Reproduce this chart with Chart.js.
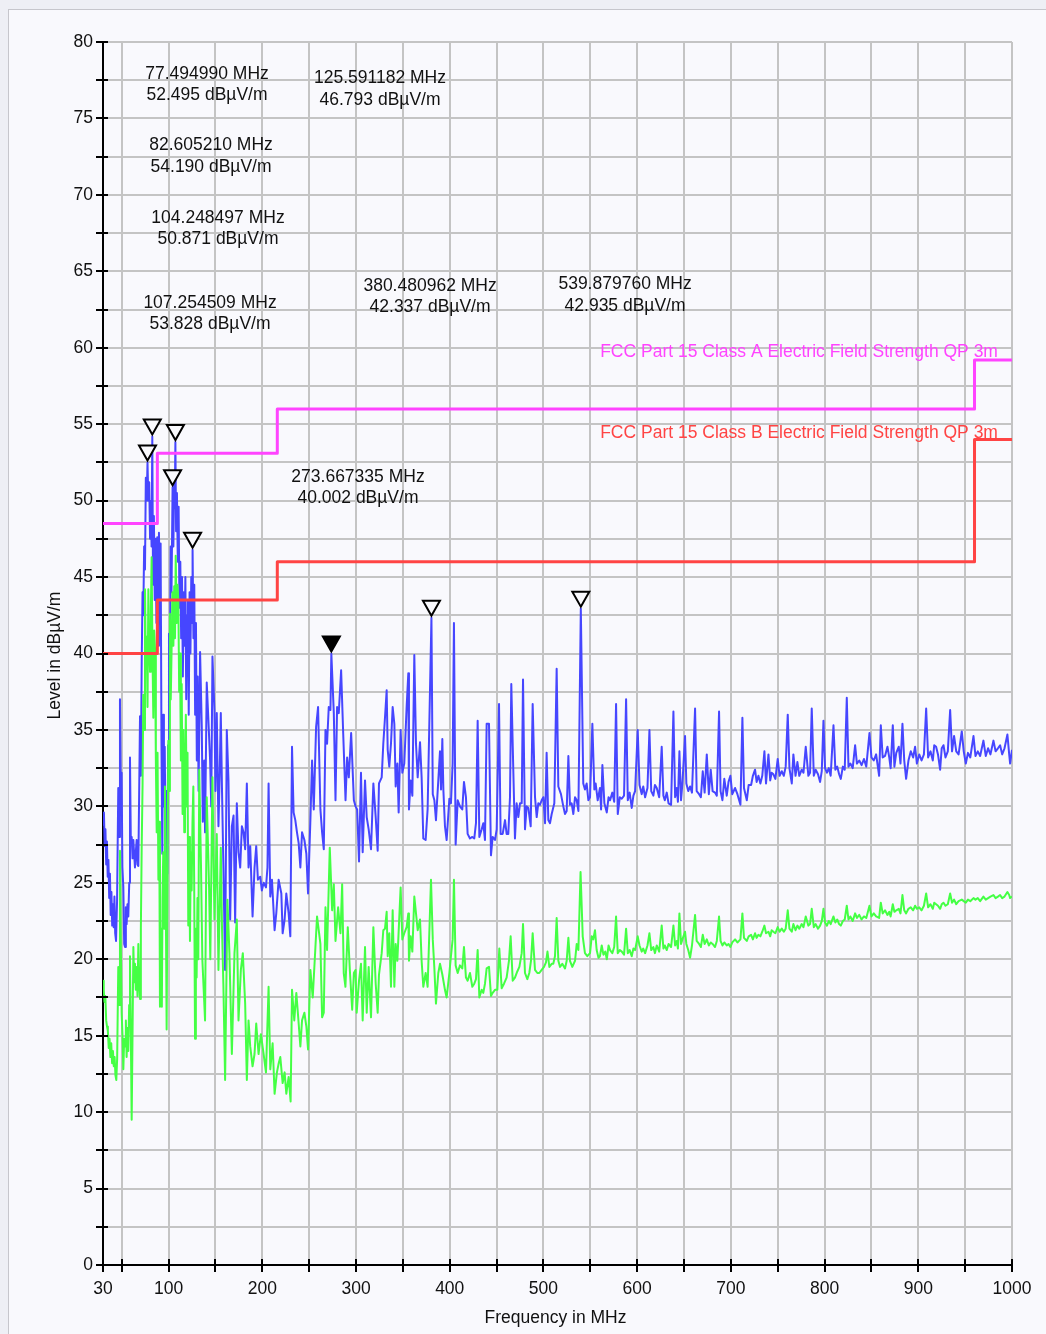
<!DOCTYPE html>
<html>
<head>
<meta charset="utf-8">
<title>Radiated emission scan 30 MHz - 1 GHz</title>
<script src="https://cdn.jsdelivr.net/npm/chart.js@4.4.1/dist/chart.umd.min.js"></script>
<style>
  html, body { margin: 0; padding: 0; background: #eeeff5; }
  #frame { position: absolute; left: 8px; top: 9px; width: 1100px; height: 1400px;
           background: #f9f9fd; border: 1px solid #c6c6cc; }
  #wrap { position: absolute; left: 0; top: 0; width: 1046px; height: 1334px; }
  canvas { display: block; }
</style>
</head>
<body>
<div id="frame"></div>
<div id="wrap"><canvas id="scan" width="1046" height="1334"></canvas></div>
<script>
// ---- axis ticks ----
const xTickValues = [30, 50, 100, 150, 200, 250, 300, 350, 400, 450, 500, 550, 600, 650, 700, 750, 800, 850, 900, 950, 1000];
const xTickLabels = [30, 100, 200, 300, 400, 500, 600, 700, 800, 900, 1000];
const yTickValues = [0, 2.5, 5, 7.5, 10, 12.5, 15, 17.5, 20, 22.5, 25, 27.5, 30, 32.5, 35, 37.5, 40, 42.5, 45, 47.5, 50, 52.5, 55, 57.5, 60, 62.5, 65, 67.5, 70, 72.5, 75, 77.5, 80];
const yTickLabels = [0, 5, 10, 15, 20, 25, 30, 35, 40, 45, 50, 55, 60, 65, 70, 75, 80];

// ---- limit lines (band edges in MHz, level in dBµV/m) ----
const limitEdges = [30, 88, 216, 960, 1000];
const classALimit = [48.5, 53.1, 56.0, 59.2, 59.2];
const classBLimit = [40.0, 43.5, 46.0, 54.0, 54.0];

// ---- peak detector trace [MHz, dBµV/m] ----
const peakTrace = [
  [30.0,28.8],[31.0,29.6],[31.8,27.4],[32.6,28.5],[33.4,26.2],[34.2,27.7],[35.0,25.4],[35.8,26.5],[36.6,24.0],[37.4,25.6],
  [38.2,22.9],[39.0,24.4],[39.8,22.2],[40.6,23.6],[41.4,22.1],[42.2,24.1],[43.0,21.7],[43.9,21.2],[45.0,23.8],[46.3,31.2],
  [47.2,28.0],[48.1,37.0],[48.9,31.8],[49.9,32.2],[50.7,26.0],[51.7,24.7],[52.6,21.0],[53.5,20.8],[54.4,23.4],[55.2,22.3],
  [56.1,23.6],[57.0,22.8],[58.0,25.0],[58.8,33.2],[59.7,27.6],[60.6,28.0],[61.5,26.6],[62.4,27.8],[63.3,26.8],[64.1,26.0],
  [65.0,27.0],[65.9,27.8],[66.8,26.2],[67.7,26.1],[68.6,31.0],[69.5,35.9],[70.4,32.0],[71.3,39.5],[72.2,44.0],[73.0,42.5],
  [73.9,47.0],[74.8,45.5],[75.7,51.5],[76.6,50.0],[77.49499,52.495],[78.4,50.0],[79.3,51.2],[80.2,47.5],[81.1,50.0],[81.8,47.0],
  [82.60521,54.19],[83.4,44.5],[84.3,49.0],[85.2,43.5],[86.1,47.5],[87.0,42.0],[87.9,47.6],[88.8,40.5],[89.7,47.9],[90.6,44.0],
  [91.5,47.2],[92.4,34.0],[93.3,26.9],[94.1,36.0],[95.0,30.0],[95.9,33.9],[96.8,27.0],[97.7,31.0],[98.6,25.6],[99.5,34.0],
  [100.4,41.3],[101.3,38.0],[102.2,47.0],[103.1,44.0],[104.248497,50.871],[105.1,47.0],[106.0,51.5],[106.5,49.5],[107.254509,53.828],[108.0,48.0],
  [108.9,50.5],[109.8,46.0],[110.7,49.6],[111.6,43.0],[112.5,46.0],[113.4,41.0],[114.3,45.0],[115.2,38.5],[116.1,44.0],[117.0,40.5],
  [117.9,45.0],[118.8,37.0],[119.7,42.5],[120.6,43.5],[121.5,36.0],[122.4,44.0],[123.3,40.0],[124.2,45.0],[125.1,42.0],[125.591182,46.793],
  [126.5,41.0],[127.4,44.5],[128.3,36.0],[129.2,42.0],[130.1,33.0],[131.0,38.5],[132.0,31.0],[133.6,40.1],[135.4,35.2],[136.5,29.0],
  [138.0,33.0],[138.9,28.3],[140.7,38.1],[142.5,35.6],[144.3,33.0],[145.5,30.0],[146.8,39.8],[148.9,36.3],[150.0,31.0],[151.4,36.1],
  [153.2,28.7],[154.5,32.0],[155.7,36.1],[157.0,31.0],[158.5,26.0],[160.3,19.3],[162.1,35.0],[163.9,31.7],[165.7,22.6],[167.5,28.7],
  [169.3,29.4],[171.0,22.4],[172.8,30.2],[174.6,27.0],[176.4,26.0],[178.2,28.7],[180.0,28.3],[181.7,27.2],[183.5,31.5],[185.3,26.0],
  [187.1,27.4],[189.6,22.8],[191.7,26.0],[193.5,27.4],[195.3,25.2],[197.8,25.4],[199.5,24.5],[201.4,25.0],[203.9,24.7],[205.5,26.0],
  [206.7,31.5],[208.5,24.1],[210.3,25.2],[213.1,21.9],[214.9,23.0],[217.4,25.2],[220.3,24.3],[221.7,21.7],[223.8,22.6],[225.6,24.3],
  [228.1,23.0],[229.9,21.5],[231.7,33.9],[233.4,29.6],[235.2,29.1],[237.0,28.3],[238.8,27.6],[240.6,26.0],[242.4,28.3],[244.9,27.8],
  [247.0,26.9],[248.8,24.3],[251.3,29.1],[253.1,33.0],[254.9,29.8],[257.4,35.2],[259.5,36.5],[262.0,29.8],[263.8,28.3],[265.6,27.2],
  [267.4,35.0],[269.1,34.1],[270.9,36.5],[272.7,36.3],[273.667335,40.002],[276.3,36.1],[278.1,30.4],[279.8,36.5],[281.6,36.1],[284.1,38.9],
  [286.3,34.8],[288.8,30.4],[290.5,33.2],[292.3,31.9],[294.8,34.8],[297.7,30.4],[299.5,30.0],[301.2,29.8],[303.2,26.4],[305.3,32.2],
  [307.1,27.0],[309.6,31.7],[311.4,29.3],[313.5,28.5],[316.0,27.2],[318.5,31.5],[321.0,29.3],[323.1,27.1],[324.5,31.5],[327.4,31.9],
  [329.1,34.1],[330.9,35.8],[332.7,37.6],[333.8,33.7],[335.5,32.6],[337.3,34.1],[339.1,36.5],[340.9,35.4],[342.3,31.3],[344.1,32.8],
  [345.5,29.6],[347.6,35.0],[349.4,32.2],[351.5,32.8],[354.0,36.5],[355.8,38.7],[356.5,29.8],[358.3,31.7],[360.1,30.7],[362.2,39.9],
  [364.0,34.1],[365.8,31.9],[368.3,34.2],[370.0,31.9],[371.8,27.9],[374.3,27.8],[376.4,29.8],[380.480962,42.337],[381.9,30.8],[383.6,30.4],
  [385.3,29.1],[387.8,31.7],[389.6,33.6],[390.7,31.1],[392.1,34.4],[393.2,31.1],[394.9,28.7],[396.7,27.8],[399.6,30.5],[401.3,30.2],
  [403.1,32.8],[404.5,42.0],[406.3,27.5],[408.5,30.4],[410.9,30.0],[413.4,29.8],[415.2,31.6],[417.3,30.6],[419.1,28.2],[421.6,27.9],
  [424.1,28.0],[426.2,27.9],[428.0,28.9],[429.8,35.6],[431.6,28.0],[434.1,28.5],[435.8,28.9],[437.6,27.8],[439.4,35.4],[441.9,35.4],
  [444.0,26.8],[445.8,28.0],[448.3,27.8],[450.1,28.5],[452.6,36.7],[454.3,28.2],[456.5,28.2],[459.0,29.1],[460.7,28.2],[462.5,28.2],
  [464.3,30.6],[465.7,38.0],[467.9,32.2],[469.6,27.9],[471.4,30.2],[473.2,29.3],[475.0,30.2],[476.8,30.2],[478.2,38.3],[480.3,28.5],
  [482.1,30.0],[483.9,29.9],[486.4,28.7],[488.5,36.7],[491.0,30.6],[492.8,29.3],[494.5,30.2],[496.3,30.1],[498.1,30.4],[499.9,30.6],
  [501.7,28.9],[503.4,33.5],[505.2,29.1],[507.0,28.9],[508.8,29.5],[511.6,30.2],[514.1,39.0],[515.9,31.3],[518.7,30.8],[521.2,30.0],
  [523.0,29.5],[524.8,29.7],[526.6,33.3],[528.3,30.1],[530.1,30.2],[531.9,29.5],[533.7,30.6],[535.5,30.4],[537.3,29.7],[539.87976,42.935],
  [542.5,31.5],[544.3,31.1],[546.1,31.5],[547.9,30.4],[549.7,30.6],[552.2,35.4],[554.3,31.1],[555.7,31.5],[557.9,30.4],[560.3,31.2],
  [561.5,29.8],[562.9,32.7],[565.0,30.2],[567.6,29.6],[569.5,30.6],[571.1,30.4],[573.5,30.9],[575.5,30.3],[577.5,36.7],[579.3,29.5],
  [581.5,30.6],[583.6,30.5],[586.0,30.7],[588.2,37.0],[590.0,30.4],[592.0,30.9],[594.2,29.9],[596.0,30.7],[597.8,31.0],[600.6,35.0],
  [602.5,31.4],[604.9,30.8],[606.5,31.3],[608.5,30.6],[611.0,31.2],[613.1,35.0],[615.0,31.0],[617.3,30.7],[619.0,31.4],[620.9,31.2],
  [623.5,30.6],[626.2,33.9],[628.0,30.7],[629.5,30.4],[631.6,30.9],[633.5,30.2],[636.2,30.1],[638.7,36.2],[640.5,30.6],[642.2,31.2],
  [643.5,30.3],[645.1,33.6],[646.8,30.4],[648.3,31.5],[651.1,34.6],[652.5,31.5],[654.5,31.0],[656.5,31.3],[658.5,30.9],[661.8,36.4],
  [663.5,31.0],[666.1,30.8],[668.0,30.6],[670.0,32.3],[672.0,30.9],[674.3,33.4],[676.5,30.8],[678.5,32.4],[680.5,31.0],[683.1,30.9],
  [685.0,30.7],[687.4,36.2],[689.0,31.0],[691.0,30.4],[693.0,31.8],[695.6,30.7],[697.5,31.6],[699.5,32.0],[701.5,30.8],[704.5,31.2],
  [707.0,30.8],[710.2,30.1],[712.3,35.8],[714.0,31.2],[717.0,30.4],[719.0,31.4],[721.6,31.4],[723.5,32.0],[725.8,32.4],[727.5,31.6],
  [729.4,32.0],[731.5,31.5],[733.5,32.0],[735.8,33.6],[737.5,31.5],[740.1,33.4],[742.0,31.7],[743.5,32.2],[745.4,32.1],[747.5,31.8],
  [750.0,33.1],[752.0,32.0],[754.3,32.3],[756.5,32.0],[758.5,32.6],[760.7,36.0],[762.5,32.5],[765.0,31.5],[766.7,33.4],[769.0,32.0],
  [771.0,32.9],[773.0,32.0],[775.6,32.4],[777.5,32.2],[779.9,33.9],[782.7,32.0],[784.5,32.2],[786.3,36.4],[788.5,32.0],[790.5,32.4],
  [793.0,32.1],[795.2,31.6],[797.0,32.3],[798.8,35.6],[800.5,32.5],[802.5,32.2],[804.5,32.5],[806.5,32.0],[809.5,35.3],[811.5,32.4],
  [813.5,32.6],[815.5,32.1],[817.3,31.8],[819.5,32.6],[821.5,32.4],[823.7,37.1],[825.5,32.6],[827.5,32.8],[830.0,32.5],[832.6,34.0],
  [834.5,32.8],[837.0,33.0],[839.5,32.7],[842.0,33.1],[844.5,32.6],[847.9,34.8],[850.0,33.2],[852.5,33.0],[855.0,33.4],[858.2,32.0],
  [860.0,35.3],[862.0,33.2],[864.5,33.3],[867.1,33.9],[869.0,33.2],[870.5,32.5],[872.8,35.3],[874.5,32.6],[876.5,33.5],[879.2,33.9],
  [881.0,32.8],[883.1,35.4],[885.0,33.0],[887.0,31.8],[889.5,33.0],[892.0,33.6],[894.5,33.2],[896.6,33.9],[898.5,32.8],[901.0,33.4],
  [903.5,33.0],[906.0,33.4],[908.4,36.4],[910.5,33.2],[913.0,33.6],[915.5,33.0],[917.0,34.0],[919.0,33.9],[921.0,33.4],[923.3,32.4],
  [925.0,33.8],[926.9,34.0],[929.0,33.2],[931.5,33.6],[934.0,36.3],[936.0,33.6],[938.2,34.6],[940.5,33.6],[943.0,33.4],[946.4,34.9],
  [948.5,33.6],[950.7,32.8],[953.0,33.5],[955.5,33.2],[958.9,34.6],[961.0,33.3],[963.5,33.6],[966.0,33.3],[969.5,34.3],[972.0,33.3],
  [974.5,33.8],[977.0,33.4],[980.2,34.3],[982.5,33.6],[985.0,33.8],[987.3,34.0],[989.5,33.4],[992.0,33.8],[995.1,34.7],[997.0,33.4],
  [998.0,32.8],[1000.0,33.7]
];

// ---- average detector trace [MHz, dBµV/m] ----
const averageTrace = [
  [30.0,18.6],[30.8,18.0],[31.6,17.2],[32.5,17.6],[33.4,16.0],[34.3,15.6],[35.2,15.3],[36.1,14.2],[37.0,14.8],[37.9,13.6],
  [38.8,14.5],[39.7,13.2],[40.6,14.0],[41.5,13.0],[42.4,13.6],[43.3,12.4],[44.2,12.1],[45.1,13.5],[46.3,19.5],[47.2,17.0],
  [48.1,27.1],[49.0,21.0],[49.9,16.5],[50.8,15.0],[51.7,12.8],[52.6,14.8],[53.5,14.3],[54.4,16.0],[55.2,13.6],[56.1,15.5],
  [57.0,14.0],[57.9,17.0],[58.8,20.2],[59.7,15.0],[60.6,9.5],[61.5,15.0],[62.4,20.8],[63.3,18.5],[64.1,19.7],[65.0,18.0],
  [65.9,19.5],[66.8,17.6],[67.7,21.0],[68.6,18.5],[69.5,17.4],[70.4,22.0],[71.3,27.4],[72.2,31.3],[73.0,37.3],[73.9,35.0],
  [74.8,44.2],[75.7,39.0],[76.6,41.1],[77.5,36.5],[78.4,44.2],[79.3,40.5],[80.2,38.8],[81.1,43.0],[81.9,46.3],[82.8,40.0],
  [83.7,35.8],[84.6,41.5],[85.5,40.3],[86.4,33.0],[87.3,28.3],[88.2,33.5],[89.1,25.2],[90.0,29.0],[90.8,16.9],[91.9,22.0],
  [92.8,16.9],[93.5,24.0],[94.3,27.0],[95.2,22.0],[96.1,31.3],[97.0,24.0],[97.9,15.4],[98.8,25.0],[99.7,34.3],[100.6,31.0],
  [101.4,42.6],[102.3,37.0],[103.2,40.3],[104.1,44.0],[105.1,40.5],[106.0,44.4],[106.8,41.0],[107.6,46.4],[108.6,42.0],[109.5,44.5],
  [110.4,43.5],[111.3,37.5],[112.2,40.0],[113.1,33.0],[114.0,38.0],[114.9,29.5],[115.8,35.0],[116.7,28.3],[117.5,31.0],[118.4,36.0],
  [119.3,30.0],[120.2,33.5],[121.0,22.2],[121.9,28.0],[122.8,21.2],[123.7,27.0],[124.6,24.5],[125.5,29.0],[126.4,31.3],[127.3,25.0],
  [128.2,14.8],[129.1,22.0],[129.9,18.8],[130.8,24.0],[131.7,20.0],[132.7,32.4],[134.6,26.0],[136.0,20.0],[138.9,16.0],[140.7,30.6],
  [143.2,24.7],[144.5,20.0],[146.8,31.9],[148.9,22.6],[151.4,28.2],[153.2,19.3],[155.7,27.3],[157.0,22.0],[158.5,18.2],[160.3,12.1],
  [162.8,23.9],[164.9,20.4],[167.5,13.8],[170.3,20.4],[172.8,22.6],[174.6,16.0],[177.1,19.3],[179.2,20.4],[181.7,17.1],[183.5,12.1],
  [185.3,16.0],[187.1,14.3],[189.6,13.0],[191.7,13.8],[193.5,15.8],[196.0,13.8],[198.5,15.1],[201.4,13.8],[203.9,12.6],[206.7,18.2],
  [208.5,12.8],[211.0,14.5],[213.1,11.2],[215.6,12.6],[217.5,13.2],[219.2,13.6],[221.7,11.9],[223.8,12.6],[225.6,11.2],[228.1,12.3],
  [230.2,10.7],[231.7,18.0],[234.1,16.0],[236.3,17.8],[238.8,15.8],[240.6,14.3],[242.4,16.0],[244.9,16.5],[247.0,15.6],[248.8,14.1],
  [251.3,19.3],[253.8,17.5],[255.9,19.9],[258.4,22.8],[260.2,21.9],[262.0,21.0],[263.8,16.2],[265.6,16.5],[267.4,23.4],[269.1,20.6],
  [272.0,27.3],[274.5,23.2],[276.3,24.9],[278.1,21.2],[280.9,23.4],[283.4,21.7],[285.2,24.9],[286.9,19.1],[288.7,18.2],[291.2,22.1],
  [293.4,19.3],[295.9,16.7],[297.7,19.1],[299.5,19.3],[300.7,16.5],[303.2,18.6],[305.3,19.7],[307.1,16.0],[309.6,20.8],[311.4,16.5],
  [313.5,19.5],[316.0,16.2],[318.5,22.1],[321.0,18.4],[323.1,16.5],[324.5,19.0],[327.4,20.4],[329.1,21.9],[330.9,22.0],[332.7,23.1],
  [333.8,20.2],[335.5,21.7],[337.3,18.2],[339.1,23.2],[340.9,18.2],[342.3,21.0],[344.1,19.9],[347.6,24.7],[349.4,21.3],[351.5,21.7],
  [354.0,22.1],[355.8,23.0],[356.5,19.9],[358.3,21.5],[360.1,20.5],[362.2,24.1],[364.0,23.0],[365.8,21.9],[368.3,22.6],[370.0,19.9],
  [371.8,18.2],[374.3,19.1],[376.4,18.2],[380.0,25.2],[381.9,21.3],[383.6,19.4],[385.3,17.1],[387.8,19.1],[389.6,19.7],[392.1,19.0],
  [394.9,18.0],[396.7,17.5],[399.6,19.1],[401.3,20.2],[403.1,21.3],[404.5,25.2],[406.3,19.6],[408.5,19.1],[410.9,19.6],[413.4,19.4],
  [415.2,20.8],[417.3,18.8],[419.1,18.6],[421.6,19.1],[424.1,18.2],[426.2,18.4],[428.0,18.7],[429.8,20.6],[431.6,17.5],[434.1,18.0],
  [435.8,17.8],[437.6,18.4],[439.4,19.4],[441.9,19.5],[444.0,17.6],[445.8,17.8],[448.3,18.0],[450.8,18.0],[452.9,20.7],[455.4,18.1],
  [457.9,18.4],[460.7,18.8],[463.2,19.9],[465.0,21.5],[467.2,18.6],[469.6,18.8],[472.1,19.2],[474.3,19.5],[476.8,20.4],[478.2,22.3],
  [480.3,19.1],[482.8,18.7],[484.9,19.1],[486.7,19.9],[488.5,21.7],[491.0,19.3],[493.5,19.1],[495.6,19.1],[498.1,19.3],[500.6,19.5],
  [502.7,19.8],[504.3,20.5],[506.3,19.5],[508.8,19.7],[510.5,19.7],[512.3,20.2],[514.1,22.7],[515.9,19.9],[517.7,19.5],[520.1,19.7],
  [523.0,19.4],[524.8,19.9],[526.6,21.4],[528.3,19.9],[530.8,19.5],[533.7,19.9],[535.5,21.0],[537.3,20.6],[539.6,25.7],[541.9,21.5],
  [544.3,20.4],[546.8,20.2],[549.7,20.4],[551.5,21.5],[553.2,21.3],[555.0,21.9],[556.8,20.6],[558.7,20.1],[560.3,20.2],[562.2,20.9],
  [564.0,20.3],[566.0,20.5],[567.6,20.0],[569.5,20.9],[571.1,20.6],[573.5,20.4],[575.5,20.8],[577.5,22.8],[579.3,20.4],[581.5,20.6],
  [583.6,20.5],[586.0,20.3],[588.2,22.0],[590.0,20.4],[592.0,20.6],[594.2,20.2],[596.0,20.7],[597.8,20.6],[600.6,21.5],[602.5,20.9],
  [604.9,20.5],[606.5,20.7],[608.5,20.4],[611.0,20.9],[613.1,21.7],[615.0,20.6],[617.3,20.8],[619.0,20.4],[620.9,20.9],[623.5,20.5],
  [626.2,22.2],[628.0,20.7],[629.5,20.9],[631.6,20.6],[633.5,21.0],[636.2,20.8],[638.7,22.2],[640.5,20.9],[642.2,21.2],[643.5,20.7],
  [645.1,23.0],[646.8,21.0],[648.3,21.3],[651.1,21.8],[652.5,21.0],[654.5,20.6],[656.5,20.1],[658.5,20.9],[661.8,22.9],[663.5,21.2],
  [666.1,21.0],[668.0,20.8],[670.0,21.6],[672.0,21.0],[674.3,21.3],[676.5,20.9],[678.5,21.1],[680.5,21.0],[683.1,20.8],[685.0,21.2],
  [687.4,22.8],[689.0,21.2],[691.0,20.9],[693.0,21.1],[695.6,20.9],[697.5,21.0],[699.5,20.8],[701.5,21.1],[704.5,21.3],[707.0,21.1],
  [710.2,21.3],[712.3,23.0],[714.0,21.4],[717.0,21.2],[719.0,21.5],[721.6,21.6],[723.5,21.3],[725.8,21.7],[727.5,21.4],[729.4,21.6],
  [731.5,21.5],[733.5,21.8],[735.8,22.2],[737.5,21.7],[740.1,21.8],[742.0,21.5],[743.5,21.9],[745.4,21.8],[747.5,21.7],[750.0,22.1],
  [752.0,21.8],[754.3,22.0],[756.5,21.8],[758.5,22.0],[760.7,23.2],[762.5,22.0],[765.0,21.8],[766.7,22.3],[769.0,21.9],[771.0,22.2],
  [773.0,22.0],[775.6,22.3],[777.5,22.1],[779.9,22.8],[782.7,22.2],[784.5,22.3],[786.3,23.3],[788.5,22.1],[790.5,22.3],[793.0,22.0],
  [795.2,22.2],[797.0,22.5],[798.8,23.3],[800.5,22.4],[802.5,22.2],[804.5,22.5],[806.5,22.3],[809.5,22.8],[811.5,22.4],[813.5,22.6],
  [815.5,22.3],[817.3,22.2],[819.5,22.5],[821.5,22.6],[823.7,23.5],[825.5,22.6],[827.5,22.8],[830.0,22.5],[832.6,23.0],[834.5,22.7],
  [837.0,22.9],[839.5,22.6],[842.0,22.8],[844.5,22.7],[847.9,23.5],[850.0,22.8],[852.5,23.0],[855.0,22.8],[858.2,22.7],[860.0,23.7],
  [862.0,23.0],[864.5,23.2],[867.1,22.9],[869.0,23.1],[870.5,22.8],[872.8,23.6],[874.5,23.1],[876.5,23.2],[879.2,23.3],[881.0,23.0],
  [883.1,24.2],[885.0,23.2],[887.0,23.0],[889.5,23.3],[892.0,23.4],[894.5,23.2],[896.6,23.5],[898.5,23.3],[901.0,23.4],[903.5,23.2],
  [906.0,23.5],[908.4,24.3],[910.5,23.4],[913.0,23.6],[915.5,23.3],[917.0,23.7],[919.0,23.6],[921.0,23.5],[923.3,23.3],[925.0,23.6],
  [926.9,23.7],[929.0,23.5],[931.5,23.6],[934.0,24.3],[936.0,23.7],[938.2,23.9],[940.5,23.6],[943.0,23.8],[946.4,23.9],[948.5,23.8],
  [950.7,23.7],[953.0,23.9],[955.5,23.8],[958.9,24.0],[961.0,23.9],[963.5,24.0],[966.0,23.8],[969.5,24.1],[972.0,23.9],[974.5,24.0],
  [977.0,24.1],[980.2,24.2],[982.5,24.0],[985.0,24.1],[987.3,24.2],[989.5,24.0],[992.0,24.1],[995.1,24.4],[997.0,24.2],[998.0,24.0],
  [1000.0,24.1]
];

// ---- marker readouts ----
const markerFreq  = [77.494990, 82.605210, 104.248497, 107.254509, 125.591182, 273.667335, 380.480962, 539.879760];
const markerLevel = [52.495, 54.190, 50.871, 53.828, 46.793, 40.002, 42.337, 42.935];
const markerFreqText  = ['77.494990 MHz', '82.605210 MHz', '104.248497 MHz', '107.254509 MHz', '125.591182 MHz', '273.667335 MHz', '380.480962 MHz', '539.879760 MHz'];
const markerLevelText = ['52.495 dBµV/m', '54.190 dBµV/m', '50.871 dBµV/m', '53.828 dBµV/m', '46.793 dBµV/m', '40.002 dBµV/m', '42.337 dBµV/m', '42.935 dBµV/m'];
const markerActive = [false, false, false, false, false, true, false, false];

// where each readout text block sits (in axis units: MHz, dBµV/m of first line), same order as the markers
const readoutAnchor = [
  [141.0, 77.90], [145.3, 73.22], [152.7, 68.50], [144.2, 62.92],
  [325.6, 77.62], [302.1, 51.56], [379.0, 64.04], [587.1, 64.14]
];

const FONT = '"Liberation Sans", Arial, Helvetica, sans-serif';
const TEXT_SIZE = 17.5;
const toPoints = (trace) => trace.map(p => ({ x: p[0], y: p[1] }));
const limitPoints = (levels) => limitEdges.map((f, i) => ({ x: f, y: levels[i] }));

const overlay = {
  id: 'overlay',
  afterDatasetsDraw(chart) {
    const { ctx, scales: { x, y } } = chart;
    ctx.save();
    // marker triangles, tip resting on the trace
    ctx.lineWidth = 2;
    ctx.strokeStyle = '#000';
    markerFreq.forEach((f, i) => {
      const px = x.getPixelForValue(f);
      const py = y.getPixelForValue(markerLevel[i]) - 2;
      ctx.beginPath();
      ctx.moveTo(px, py);
      ctx.lineTo(px - 8.5, py - 15);
      ctx.lineTo(px + 8.5, py - 15);
      ctx.closePath();
      ctx.fillStyle = markerActive[i] ? '#000' : '#f9f9fd';
      ctx.fill();
      ctx.stroke();
    });
    // readout texts
    ctx.font = TEXT_SIZE + 'px ' + FONT;
    ctx.fillStyle = '#111';
    ctx.textAlign = 'center';
    ctx.textBaseline = 'middle';
    readoutAnchor.forEach((a, i) => {
      const px = x.getPixelForValue(a[0]);
      const py = y.getPixelForValue(a[1]);
      ctx.fillText(markerFreqText[i], px, py);
      ctx.fillText(markerLevelText[i], px, py + 21.5);
    });
    // limit line captions
    ctx.textAlign = 'right';
    ctx.fillStyle = '#ff44ff';
    ctx.fillText('FCC Part 15 Class A Electric Field Strength QP 3m', x.getPixelForValue(985), y.getPixelForValue(classALimit[2]) - 57);
    ctx.fillStyle = '#ff4444';
    ctx.fillText('FCC Part 15 Class B Electric Field Strength QP 3m', x.getPixelForValue(985), y.getPixelForValue(classBLimit[3]) - 6);
    ctx.restore();
  },
  afterDraw(chart) {
    const { ctx, scales: { x, y }, chartArea } = chart;
    ctx.save();
    // tick marks reaching into the plot
    ctx.strokeStyle = '#000';
    ctx.lineWidth = 2;
    ctx.beginPath();
    yTickValues.forEach(v => {
      const py = Math.round(y.getPixelForValue(v));
      ctx.moveTo(chartArea.left, py);
      ctx.lineTo(chartArea.left + 5, py);
    });
    xTickValues.forEach(v => {
      const px = Math.round(x.getPixelForValue(v));
      ctx.moveTo(px, chartArea.bottom);
      ctx.lineTo(px, chartArea.bottom - 6);
    });
    ctx.stroke();
    // axis titles
    ctx.fillStyle = '#111';
    ctx.font = TEXT_SIZE + 'px ' + FONT;
    ctx.textAlign = 'center';
    ctx.textBaseline = 'middle';
    ctx.fillText('Frequency in MHz', (chartArea.left + chartArea.right) / 2 - 2, 1318);
    ctx.translate(55, (chartArea.top + chartArea.bottom) / 2 + 2);
    ctx.rotate(-Math.PI / 2);
    ctx.fillText('Level in dBµV/m', 0, 0);
    ctx.restore();
  }
};

const gridStyle = { color: '#c4c4c4', lineWidth: 2, tickColor: '#000', tickWidth: 2, tickLength: 7 };
const tickFont = { family: FONT, size: TEXT_SIZE };

new Chart(document.getElementById('scan').getContext('2d'), {
  type: 'line',
  data: {
    datasets: [
      { label: 'Class A', data: limitPoints(classALimit), stepped: 'before', borderColor: '#ff44ff', borderWidth: 3, pointRadius: 0, order: 0 },
      { label: 'Class B', data: limitPoints(classBLimit), stepped: 'before', borderColor: '#ff4444', borderWidth: 3, pointRadius: 0, order: 0 },
      { label: 'Average', data: toPoints(averageTrace), borderColor: '#44ff44', borderWidth: 2, pointRadius: 0, tension: 0, order: 1 },
      { label: 'Peak', data: toPoints(peakTrace), borderColor: '#4646ff', borderWidth: 2, pointRadius: 0, tension: 0, order: 2 }
    ]
  },
  options: {
    responsive: false,
    animation: false,
    devicePixelRatio: 1,
    layout: { padding: { left: 0, top: 42, right: 34, bottom: 0 } },
    plugins: { legend: { display: false }, tooltip: { enabled: false } },
    elements: { line: { borderJoinStyle: 'round' } },
    scales: {
      x: {
        type: 'linear', min: 30, max: 1000,
        afterBuildTicks: s => { s.ticks = xTickValues.map(v => ({ value: v })); },
        afterFit: s => { s.height = 69; },
        ticks: { autoSkip: false, maxRotation: 0, padding: 7, color: '#111', font: tickFont,
                 callback: v => (xTickLabels.includes(v) ? String(v) : '') },
        grid: gridStyle,
        border: { display: true, color: '#000', width: 2 }
      },
      y: {
        type: 'linear', min: 0, max: 80,
        afterBuildTicks: s => { s.ticks = yTickValues.map(v => ({ value: v })); },
        afterFit: s => { s.width = 103; },
        ticks: { autoSkip: false, padding: 3, color: '#111', font: tickFont,
                 callback: v => (yTickLabels.includes(v) ? String(v) : '') },
        grid: gridStyle,
        border: { display: true, color: '#000', width: 2 }
      }
    }
  },
  plugins: [overlay]
});
</script>
</body>
</html>
